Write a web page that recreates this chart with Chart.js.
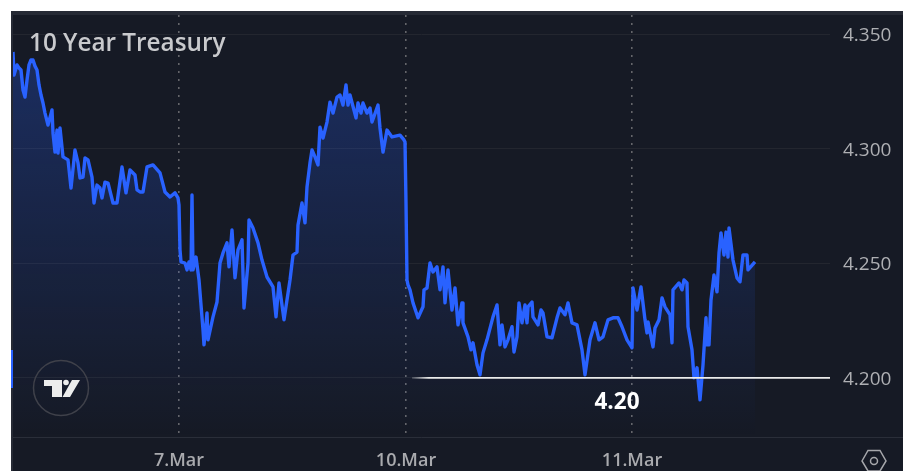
<!DOCTYPE html>
<html>
<head>
<meta charset="utf-8">
<title>10 Year Treasury</title>
<script src="https://cdn.jsdelivr.net/npm/chart.js@4"></script>
<style>
html,body{margin:0;padding:0;background:#fff;width:903px;height:471px;overflow:hidden}
#panel{position:absolute;left:11px;top:11px;width:892px;height:460px;background:#161a25}
#topband{position:absolute;left:11px;top:11px;width:892px;height:4px;background:#262a35}
#leftband{position:absolute;left:11px;top:11px;width:2px;height:460px;background:#262a35}
#marker{position:absolute;left:11px;top:350px;width:2px;height:38px;background:#2962ff}
#axisright{position:absolute;left:830px;top:437px;width:73px;height:1px;background:#2a2e39}
canvas{position:absolute;left:0;top:0}
svg{position:absolute;left:0;top:0}
</style>
</head>
<body>
<div id="panel"></div><div id="topband"></div><div id="leftband"></div><div id="marker"></div><div id="axisright"></div>
<canvas id="c" width="903" height="471"></canvas>
<svg width="903" height="471" viewBox="0 0 903 471">
<circle cx="61" cy="388" r="27.5" fill="none" stroke="#3f414a" stroke-width="1.5"/>
<path d="M44 380H62V397H52V386H44Z M72 380H80L70 397H62.5Z" fill="#eceded"/>
<circle cx="66" cy="382.5" r="2.8" fill="#eceded"/>
<path d="M862 461L868 450.5H880L886 461L880 471H868Z" fill="none" stroke="#a6a7ab" stroke-width="1.5"/>
<circle cx="874" cy="461" r="3.5" fill="none" stroke="#a6a7ab" stroke-width="1.5"/>
</svg>
<script>
const chartTitle = "10 Year Treasury";
const dayTicks = [166, 393, 619];
const dayLabels = ["7.Mar", "10.Mar", "11.Mar"];
const priceTicks = [4.20, 4.25, 4.30, 4.35];
const levelBars = [399, 817];
const levelValues = [4.20, 4.20];
const levelLabel = "4.20";
const bars = [0,1,4,6,8,10,12,14,16,18,20,22,24,26,28,30,32,35,39,40,42,44,45,47,50,55,58,62,65,67,70,72,75,79,81,84,87,89,92,95,100,104,109,113,117,122,124,127,130,134,140,147,152,157,162,165,166,167,168,172,174,176,178,179,180,183,186,190,191,194,195,200,204,207,210,214,216,219,222,225,229,231,235,236,240,245,249,254,260,263,266,271,277,280,284,285,289,292,294,297,299,302,305,307,310,314,317,320,324,327,330,333,335,337,343,345,348,350,354,357,359,365,367,370,374,379,387,391,392,393,394,395,397,400,404,405,410,411,414,417,420,424,427,430,432,435,439,442,445,449,450,455,458,460,464,467,470,474,480,484,487,489,492,495,499,501,504,506,509,512,514,515,519,520,525,528,530,534,539,544,547,552,555,559,564,569,572,577,582,586,590,595,600,605,609,614,619,620,624,628,632,634,635,640,642,646,649,652,657,659,660,666,669,671,674,675,679,681,684,687,690,693,694,696,698,701,704,706,708,711,713,715,716,720,724,727,730,734,735,742];
const yields = [4.3422,4.3321,4.3365,4.3352,4.3343,4.3256,4.3225,4.3299,4.3365,4.3387,4.3387,4.3360,4.3343,4.3278,4.3234,4.3199,4.3155,4.3103,4.3169,4.3068,4.2985,4.3081,4.2981,4.3090,4.2964,4.2951,4.2828,4.2994,4.2938,4.2872,4.2876,4.2959,4.2951,4.2876,4.2763,4.2841,4.2828,4.2785,4.2854,4.2850,4.2763,4.2763,4.2920,4.2807,4.2907,4.2885,4.2820,4.2811,4.2811,4.2920,4.2929,4.2894,4.2811,4.2789,4.2807,4.2785,4.2754,4.2558,4.2506,4.2501,4.2471,4.2506,4.2471,4.2798,4.2471,4.2527,4.2427,4.2209,4.2144,4.2283,4.2166,4.2266,4.2331,4.2501,4.2545,4.2589,4.2484,4.2645,4.2436,4.2558,4.2602,4.2305,4.2501,4.2689,4.2654,4.2589,4.2514,4.2440,4.2397,4.2266,4.2414,4.2253,4.2427,4.2536,4.2549,4.2667,4.2763,4.2676,4.2833,4.2938,4.2994,4.2964,4.2929,4.3094,4.3046,4.3116,4.3203,4.3155,4.3225,4.3234,4.3190,4.3278,4.3190,4.3234,4.3134,4.3199,4.3155,4.3199,4.3155,4.3177,4.3116,4.3190,4.3090,4.2985,4.3081,4.3051,4.3059,4.3038,4.3029,4.2763,4.2427,4.2406,4.2384,4.2327,4.2275,4.2262,4.2310,4.2384,4.2392,4.2501,4.2462,4.2484,4.2384,4.2484,4.2327,4.2471,4.2296,4.2392,4.2231,4.2327,4.2240,4.2179,4.2122,4.2153,4.2057,4.2013,4.2109,4.2166,4.2266,4.2318,4.2144,4.2231,4.2135,4.2166,4.2223,4.2113,4.2179,4.2327,4.2240,4.2318,4.2240,4.2310,4.2331,4.2266,4.2231,4.2296,4.2283,4.2179,4.2175,4.2262,4.2305,4.2275,4.2327,4.2240,4.2231,4.2122,4.2013,4.2166,4.2240,4.2166,4.2179,4.2253,4.2262,4.2262,4.2223,4.2166,4.2131,4.2392,4.2296,4.2397,4.2253,4.2196,4.2244,4.2135,4.2218,4.2253,4.2349,4.2310,4.2275,4.2153,4.2384,4.2414,4.2384,4.2427,4.2414,4.2223,4.2122,4.2000,4.2044,4.1904,4.2057,4.2262,4.2144,4.2144,4.2340,4.2449,4.2375,4.2545,4.2632,4.2536,4.2636,4.2527,4.2654,4.2514,4.2436,4.2419,4.2536,4.2536,4.2471,4.2506];

const xy = (xs, ys) => xs.map((x, i) => ({x, y: ys[i]}));

const textPlugin = {
  id: 'texts',
  afterDatasetsDraw(chart) {
    const {ctx, scales: {x, y}} = chart;
    ctx.save();
    ctx.textBaseline = 'middle';
    ctx.textAlign = 'left';
    ctx.fillStyle = '#c9cacd';
    ctx.font = '600 24.3px "Open Sans"';
    ctx.fillText(chartTitle, 29, 44);
    ctx.textAlign = 'center';
    ctx.fillStyle = '#ffffff';
    ctx.font = '700 22.5px "Open Sans"';
    ctx.fillText(levelLabel, x.getPixelForValue(604), y.getPixelForValue(4.20) + 25);
    ctx.restore();
  }
};

new Chart(document.getElementById('c'), {
  type: 'line',
  data: {
    datasets: [
      {
        data: xy(levelBars, levelValues),
        borderWidth: 1.8,
        pointRadius: 0,
        order: 0,
        fill: false,
        borderColor(ctx) {
          const a = ctx.chart.chartArea;
          if (!a) return '#e0e0e0';
          const g = ctx.chart.ctx.createLinearGradient(412, 0, a.right, 0);
          g.addColorStop(0, 'rgba(235,235,235,0.2)');
          g.addColorStop(0.04, 'rgba(235,235,235,1)');
          g.addColorStop(1, 'rgba(235,235,235,1)');
          return g;
        }
      },
      {
        data: xy(bars, yields),
        borderColor: '#2962ff',
        borderWidth: 3.4,
        borderJoinStyle: 'round',
        pointRadius: 0,
        tension: 0,
        order: 1,
        fill: 'start',
        backgroundColor(ctx) {
          const a = ctx.chart.chartArea;
          if (!a) return 'rgba(41,98,255,0.2)';
          const g = ctx.chart.ctx.createLinearGradient(0, a.top + 30, 0, a.bottom);
          g.addColorStop(0, 'rgba(41,98,255,0.28)');
          g.addColorStop(1, 'rgba(41,98,255,0.0)');
          return g;
        }
      }
    ]
  },
  options: {
    responsive: false,
    animation: false,
    events: [],
    layout: {padding: {left: 13, top: 15, right: 0, bottom: 0}},
    plugins: {legend: {display: false}, tooltip: {enabled: false}, title: {display: false}},
    scales: {
      x: {
        type: 'linear',
        min: 0,
        max: 817,
        afterBuildTicks(s) { s.ticks = dayTicks.map(v => ({value: v})); },
        afterFit(s) { s.height = 34; s.paddingLeft = 0; s.paddingRight = 0; },
        grid: {color: '#64656a', lineWidth: 1.6, drawTicks: false},
        border: {display: true, color: '#2a2e39', dash: [2, 6]},
        ticks: {
          autoSkip: false,
          maxRotation: 0,
          padding: 13,
          color: '#a9aaae',
          font: {family: '"Open Sans"', size: 18, weight: '600'},
          callback(v) { return dayLabels[dayTicks.indexOf(v)]; }
        }
      },
      y: {
        position: 'right',
        min: 4.1742,
        max: 4.3583,
        afterBuildTicks(s) { s.ticks = priceTicks.map(v => ({value: v})); },
        afterFit(s) { s.width = 73; s.paddingTop = 0; s.paddingBottom = 0; },
        grid: {color: '#23262f', lineWidth: 1, drawTicks: false},
        border: {display: false},
        ticks: {
          padding: 13,
          labelOffset: 1.5,
          color: '#aeafb3',
          font: {family: '"Open Sans"', size: 19},
          callback(v) { return v.toFixed(3); }
        }
      }
    }
  },
  plugins: [textPlugin]
});
</script>
</body>
</html>
